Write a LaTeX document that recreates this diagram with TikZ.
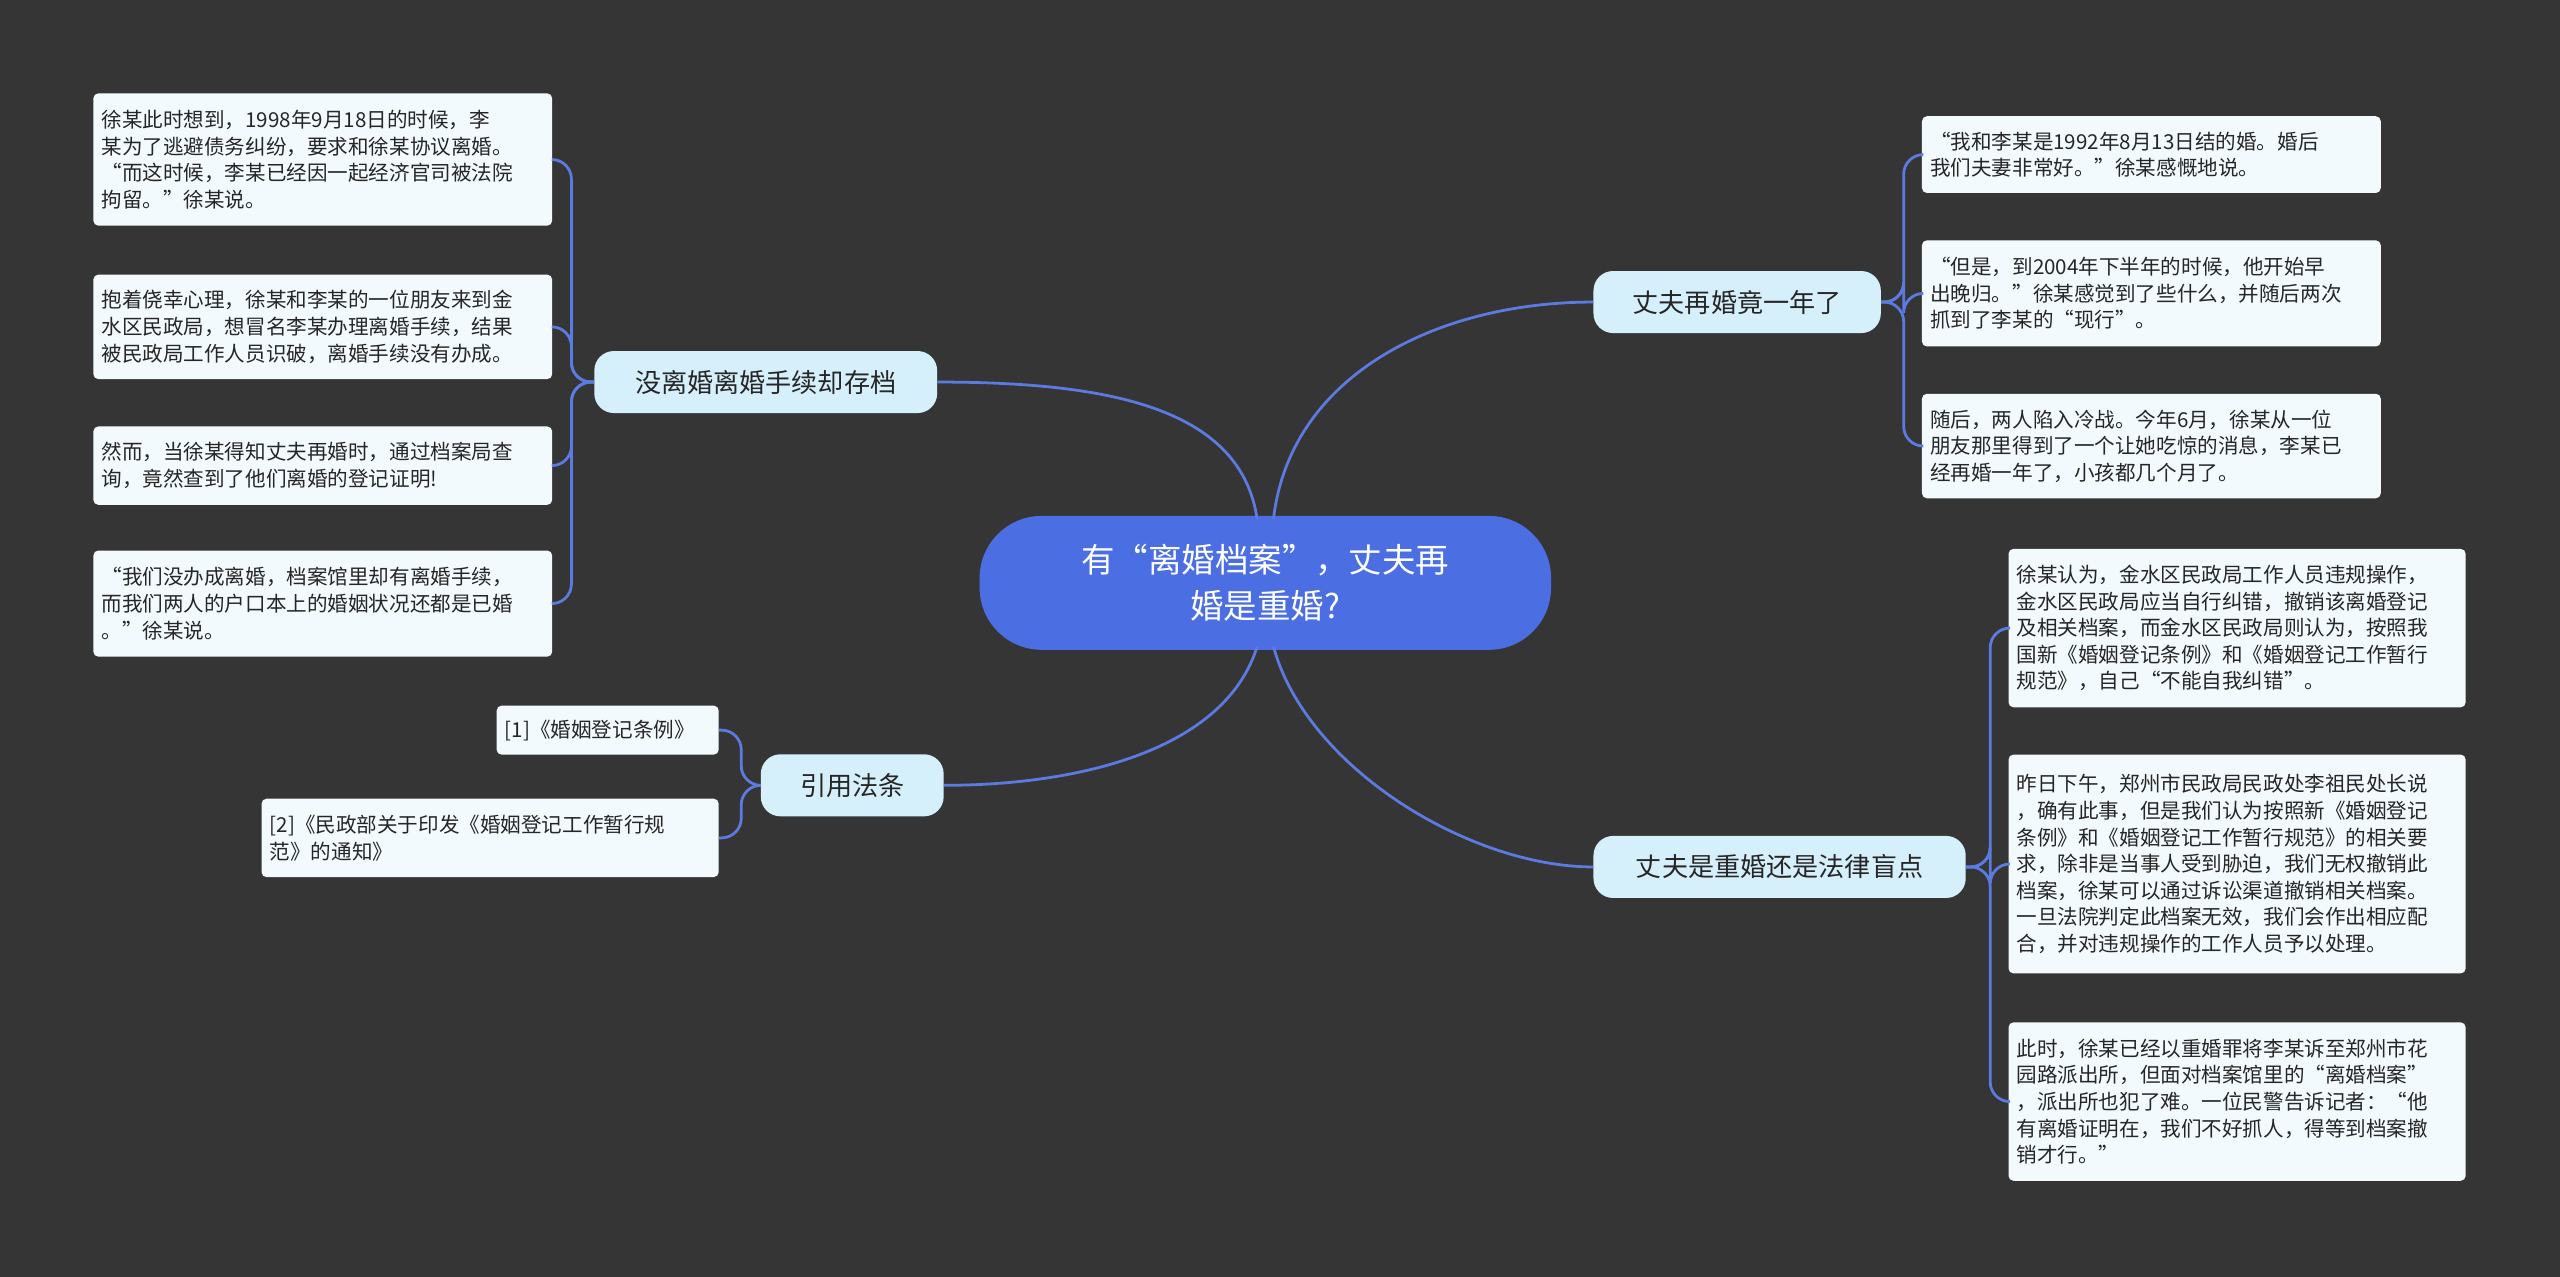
\documentclass[tikz,border=0pt]{standalone}
\usepackage{fontspec}
\setmainfont{Noto Sans CJK SC}
\begin{document}
\begin{tikzpicture}[x=1pt,y=-1pt,
  line/.style={draw=lk,line width=1.7pt},
  leaf/.style={draw=none,fill=leafc,rounded corners=3pt,align=left,inner sep=5pt,anchor=north west,font=\fontsize{12.6}{16.3}\selectfont,text=black!85},
  br/.style={fill=brc,rounded corners=12pt,minimum height=38pt,font=\fontsize{16}{18}\selectfont,text=black!85,inner sep=0pt}]
\definecolor{bg}{HTML}{353535}
\definecolor{lk}{HTML}{5C7BE0}
\definecolor{leafc}{HTML}{F2FAFD}
\definecolor{brc}{HTML}{D6F0FB}
\definecolor{ctr}{HTML}{4B6FE3}
\fill[bg] (0,0) rectangle (1568,782);
\useasboundingbox (0,0) rectangle (1568,782);
% center
\node[fill=ctr,rounded corners=38pt,minimum width=350pt,minimum height=82pt,text=white,align=center,font=\fontsize{20.5}{28}\selectfont] (c) at (775,357) {有“离婚档案”，丈夫再\\婚是重婚?};
% branches
\node[br,minimum width=210pt] (b1) at (469,234) {没离婚离婚手续却存档};
\node[br,minimum width=112pt] (b2) at (522,481) {引用法条};
\node[br,minimum width=176pt] (b3) at (1064,185) {丈夫再婚竟一年了};
\node[br,minimum width=228pt] (b4) at (1090,531) {丈夫是重婚还是法律盲点};
% left leaves
\node[leaf,text width=271pt,minimum height=81pt] (l1) at (57,57) {徐某此时想到，1998年9月18日的时候，李\\某为了逃避债务纠纷，要求和徐某协议离婚。\\“而这时候，李某已经因一起经济官司被法院\\拘留。”徐某说。};
\node[leaf,text width=271pt,minimum height=64pt] (l2) at (57,168) {抱着侥幸心理，徐某和李某的一位朋友来到金\\水区民政局，想冒名李某办理离婚手续，结果\\被民政局工作人员识破，离婚手续没有办成。};
\node[leaf,text width=271pt,minimum height=48pt] (l3) at (57,261) {然而，当徐某得知丈夫再婚时，通过档案局查\\询，竟然查到了他们离婚的登记证明!};
\node[leaf,text width=271pt,minimum height=65pt] (l4) at (57,337) {“我们没办成离婚，档案馆里却有离婚手续，\\而我们两人的户口本上的婚姻状况还都是已婚\\。”徐某说。};
% cite leaves
\node[leaf,text width=126pt,minimum height=30pt] (c1) at (304,432) {[1]《婚姻登记条例》};
\node[leaf,text width=270pt,minimum height=48pt] (c2) at (160,489) {[2]《民政部关于印发《婚姻登记工作暂行规\\范》的通知》};
% right top
\node[leaf,text width=271pt,minimum height=47pt] (r1) at (1177,71) {“我和李某是1992年8月13日结的婚。婚后\\我们夫妻非常好。”徐某感慨地说。};
\node[leaf,text width=271pt,minimum height=65pt] (r2) at (1177,147) {“但是，到2004年下半年的时候，他开始早\\出晚归。”徐某感觉到了些什么，并随后两次\\抓到了李某的“现行”。};
\node[leaf,text width=271pt,minimum height=64pt] (r3) at (1177,241) {随后，两人陷入冷战。今年6月，徐某从一位\\朋友那里得到了一个让她吃惊的消息，李某已\\经再婚一年了，小孩都几个月了。};
% right bottom
\node[leaf,text width=270pt,minimum height=97pt] (s1) at (1230,336) {徐某认为，金水区民政局工作人员违规操作，\\金水区民政局应当自行纠错，撤销该离婚登记\\及相关档案，而金水区民政局则认为，按照我\\国新《婚姻登记条例》和《婚姻登记工作暂行\\规范》，自己“不能自我纠错”。};
\node[leaf,text width=270pt,minimum height=134pt] (s2) at (1230,462) {昨日下午，郑州市民政局民政处李祖民处长说\\，确有此事，但是我们认为按照新《婚姻登记\\条例》和《婚姻登记工作暂行规范》的相关要\\求，除非是当事人受到胁迫，我们无权撤销此\\档案，徐某可以通过诉讼渠道撤销相关档案。\\一旦法院判定此档案无效，我们会作出相应配\\合，并对违规操作的工作人员予以处理。};
\node[leaf,text width=270pt,minimum height=97pt] (s3) at (1230,626) {此时，徐某已经以重婚罪将李某诉至郑州市花\\园路派出所，但面对档案馆里的“离婚档案”\\，派出所也犯了难。一位民警告诉记者：“他\\有离婚证明在，我们不好抓人，得等到档案撤\\销才行。”};
% center connectors
\coordinate (ct1) at (770,318); \coordinate (ct2) at (780,318);
\coordinate (cb1) at (770,396); \coordinate (cb2) at (780,396);
\draw[line] (ct1) .. controls (760,250) and (680,234) .. (b1.east);
\draw[line] (ct2) .. controls (790,230) and (880,185) .. (b3.west);
\draw[line] (cb1) .. controls (750,460) and (660,481) .. (b2.east);
\draw[line] (cb2) .. controls (800,470) and (900,531) .. (b4.west);
% branch to leaves
\foreach \l in {l1,l2,l3,l4}{
  \draw[line,rounded corners=12pt] (b1.west) -- (350,234) |- (\l.east);}
\foreach \l in {c1,c2}{
  \draw[line,rounded corners=12pt] (b2.west) -- (454,481) |- (\l.east);}
\foreach \l in {r1,r2,r3}{
  \draw[line,rounded corners=12pt] (b3.east) -- (1166,185) |- (\l.west);}
\foreach \l in {s1,s2,s3}{
  \draw[line,rounded corners=12pt] (b4.east) -- (1219,531) |- (\l.west);}
\end{tikzpicture}
\end{document}
